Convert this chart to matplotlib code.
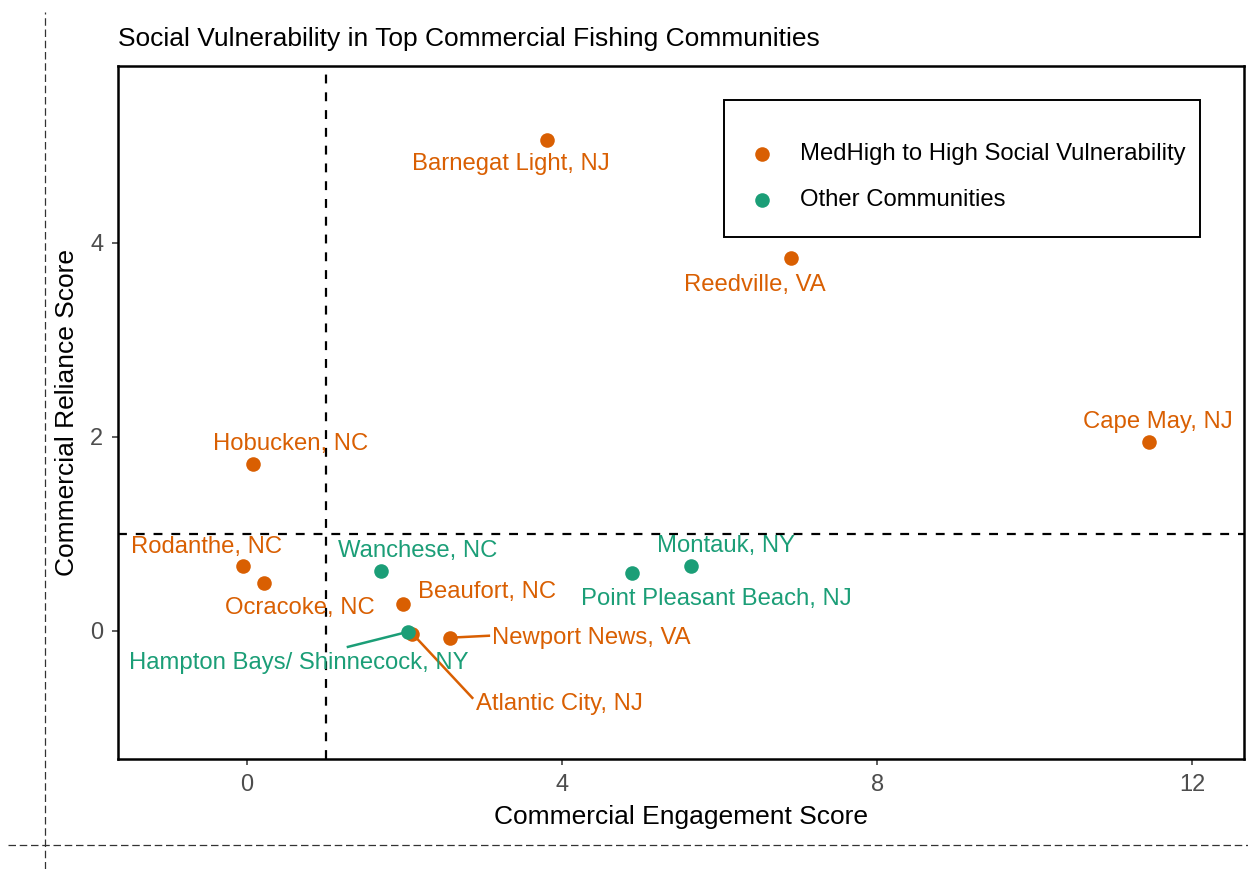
import matplotlib
matplotlib.use("Agg")
import matplotlib.pyplot as plt
from matplotlib.lines import Line2D
from matplotlib.patches import Rectangle

plt.rcParams['font.family'] = ['Liberation Sans', 'DejaVu Sans']

# community scores
names = ["Barnegat Light, NJ", "Reedville, VA", "Cape May, NJ", "Hobucken, NC",
         "Rodanthe, NC", "Ocracoke, NC", "Wanchese, NC", "Beaufort, NC",
         "Hampton Bays/ Shinnecock, NY", "Atlantic City, NJ", "Newport News, VA",
         "Point Pleasant Beach, NJ", "Montauk, NY"]
engagement = [3.81, 6.91, 11.45, 0.08, -0.05, 0.22, 1.70, 1.98, 2.04, 2.10, 2.58, 4.89, 5.64]
reliance = [5.06, 3.84, 1.95, 1.72, 0.67, 0.49, 0.62, 0.28, -0.01, -0.03, -0.07, 0.60, 0.67]
group = ["high", "high", "high", "high", "high", "high", "other", "high",
         "other", "high", "high", "other", "other"]

# repelled label positions (data units) and leader line starts
label_x = [3.35, 6.45, 11.57, 0.55, -0.51, 0.67, 2.16, 3.05, 0.65, 3.97, 4.37, 5.96, 6.08]
label_y = [4.84, 3.59, 2.18, 1.95, 0.89, 0.26, 0.85, 0.43, -0.31, -0.73, -0.05, 0.35, 0.90]
leader = {8: (1.28, -0.165), 9: (2.86, -0.69), 10: (3.07, -0.05)}

colors = {"high": "#D95F02", "other": "#1B9E77"}
legend_names = {"high": "MedHigh to High Social Vulnerability", "other": "Other Communities"}

W, H = 1248, 869
fig = plt.figure(figsize=(W / 100, H / 100), dpi=100)
ax = fig.add_axes([118 / W, 1 - 759 / H, 1126 / W, 693 / H])

ax.axvline(1, color="black", ls=(0, (4, 4)), lw=1.6, zorder=1)
ax.axhline(1, color="black", ls=(0, (4, 4)), lw=1.6, zorder=1)

for i, (lx, ly) in leader.items():
    ax.plot([lx, engagement[i]], [ly, reliance[i]], color=colors[group[i]], lw=1.8, zorder=2)

for g in ["high", "other"]:
    xs = [x for x, gg in zip(engagement, group) if gg == g]
    ys = [y for y, gg in zip(reliance, group) if gg == g]
    ax.scatter(xs, ys, s=110, color=colors[g], label=legend_names[g], zorder=3, linewidths=0)

for i, n in enumerate(names):
    ax.text(label_x[i], label_y[i], n, color=colors[group[i]], fontsize=17.2,
            ha="center", va="center_baseline", zorder=4)

ax.set_xlim(-1.64, 12.66)
ax.set_ylim(-1.32, 5.82)
ax.set_xticks([0, 4, 8, 12])
ax.set_yticks([0, 2, 4])
ax.tick_params(colors="#333333", labelcolor="#4D4D4D", labelsize=17, length=4.5,
               width=1.1, pad=6)
for sp in ax.spines.values():
    sp.set_linewidth(1.8)
    sp.set_color("black")

ax.set_xlabel("Commercial Engagement Score", fontsize=19, labelpad=7)
ax.set_ylabel("Commercial Reliance Score", fontsize=19, labelpad=8)
ax.set_title("Social Vulnerability in Top Commercial Fishing Communities",
             fontsize=19, loc="left", pad=14.5)

leg = ax.legend(loc="upper left", bbox_to_anchor=((752.5 - 118) / 1126, (759 - 143) / 693),
                frameon=False, fontsize=17.2, borderpad=0, labelspacing=1.0,
                handlelength=0.8, handletextpad=1.19, borderaxespad=0)
ax.add_patch(Rectangle(((724 - 118) / 1126, (759 - 237) / 693), 476 / 1126, 137 / 693,
                       transform=ax.transAxes, fill=False, edgecolor="black", lw=1.4,
                       zorder=5))

# outer dashed guide lines
fig.add_artist(Line2D([45 / W, 45 / W], [0, 1 - 12 / H], color="#333333",
                      lw=0.9, ls=(0, (6, 3))))
fig.add_artist(Line2D([8 / W, 1], [1 - 845 / H, 1 - 845 / H], color="#333333",
                      lw=0.9, ls=(0, (6, 3))))

fig.savefig("out.png", dpi=100)
